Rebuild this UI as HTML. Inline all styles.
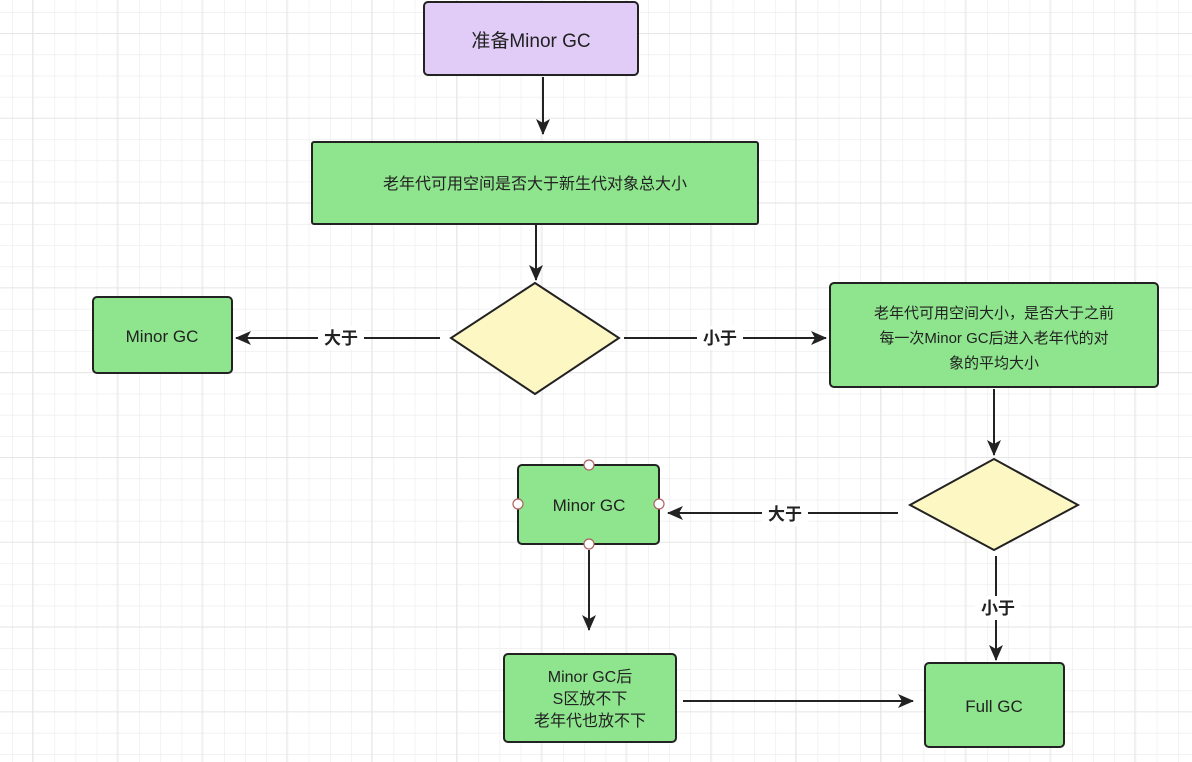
<!DOCTYPE html>
<html><head><meta charset="utf-8"><style>
html,body{margin:0;padding:0;background:#fff;}
svg{display:block;}
text{font-family:"Liberation Sans","Noto Sans CJK SC",sans-serif;}
</style></head><body>
<svg width="1192" height="762" viewBox="0 0 1192 762" xmlns="http://www.w3.org/2000/svg">
<defs>
<pattern id="g" x="12" y="12" width="21.2" height="21.2" patternUnits="userSpaceOnUse">
<path d="M0 0H21.2M0 0V21.2" stroke="#ebebeb" stroke-width="1.2" fill="none"/>
</pattern>
<pattern id="G" x="32" y="33" width="84.8" height="84.8" patternUnits="userSpaceOnUse">
<path d="M0 0H84.8M0 0V84.8" stroke="#e2e2e2" stroke-width="1.4" fill="none"/>
</pattern>
<marker id="a" markerWidth="16" markerHeight="14" refX="15" refY="7" orient="auto" markerUnits="userSpaceOnUse">
<path d="M0 0L16 7L0 14L4 7Z" fill="#222"/>
</marker>
</defs>
<rect width="1192" height="762" fill="#fff"/>
<rect width="1192" height="762" fill="url(#g)"/>
<rect width="1192" height="762" fill="url(#G)"/>
<g stroke="#222" stroke-width="2" fill="none">
<line x1="543" y1="77" x2="543" y2="134" marker-end="url(#a)"/>
<line x1="536" y1="224" x2="536" y2="280" marker-end="url(#a)"/>
<line x1="440" y1="338" x2="236" y2="338" marker-end="url(#a)"/>
<line x1="624" y1="338" x2="826" y2="338" marker-end="url(#a)"/>
<line x1="994" y1="389" x2="994" y2="455" marker-end="url(#a)"/>
<line x1="898" y1="513" x2="668" y2="513" marker-end="url(#a)"/>
<line x1="996" y1="556" x2="996" y2="660" marker-end="url(#a)"/>
<line x1="589" y1="550" x2="589" y2="630" marker-end="url(#a)"/>
<line x1="683" y1="701" x2="913" y2="701" marker-end="url(#a)"/>
</g>
<g font-size="17" font-weight="bold" fill="#222" text-anchor="middle">
<rect x="318" y="326" width="46" height="24" fill="#fff"/><text x="341" y="344">大于</text>
<rect x="697" y="326" width="46" height="24" fill="#fff"/><text x="720" y="344">小于</text>
<rect x="762" y="502" width="46" height="24" fill="#fff"/><text x="785" y="520">大于</text>
<rect x="975" y="596" width="46" height="24" fill="#fff"/><text x="998" y="614">小于</text>
</g>
<g stroke="#222" stroke-width="2">
<rect x="424" y="2" width="214" height="73" rx="4" fill="#e0ccf7"/>
<rect x="312" y="142" width="446" height="82" rx="2" fill="#8ee58e"/>
<rect x="93" y="297" width="139" height="76" rx="4" fill="#8ee58e"/>
<polygon points="535,283 619,338 535,394 451,338" fill="#fdf7c3"/>
<rect x="830" y="283" width="328" height="104" rx="4" fill="#8ee58e"/>
<polygon points="994,459 1078,505 994,550 910,505" fill="#fdf7c3"/>
<rect x="518" y="465" width="141" height="79" rx="4" fill="#8ee58e"/>
<rect x="504" y="654" width="172" height="88" rx="4" fill="#8ee58e"/>
<rect x="925" y="663" width="139" height="84" rx="4" fill="#8ee58e"/>
</g>
<g fill="#fff" stroke="#b06060" stroke-width="1.2">
<circle cx="589" cy="465" r="5"/><circle cx="518" cy="504" r="5"/><circle cx="589" cy="544" r="5"/><circle cx="659" cy="504" r="5"/>
</g>
<g fill="#222" text-anchor="middle">
<text x="531" y="47" font-size="19">准备Minor GC</text>
<text x="535" y="189" font-size="16">老年代可用空间是否大于新生代对象总大小</text>
<text x="162" y="342" font-size="17">Minor GC</text>
<text x="994" y="318" font-size="15">老年代可用空间大小，是否大于之前</text>
<text x="994" y="343" font-size="15">每一次Minor GC后进入老年代的对</text>
<text x="994" y="368" font-size="15">象的平均大小</text>
<text x="589" y="511" font-size="17">Minor GC</text>
<text x="590" y="682" font-size="16">Minor GC后</text>
<text x="590" y="704" font-size="16">S区放不下</text>
<text x="590" y="726" font-size="16">老年代也放不下</text>
<text x="994" y="712" font-size="17">Full GC</text>
</g>
</svg>
</body></html>
